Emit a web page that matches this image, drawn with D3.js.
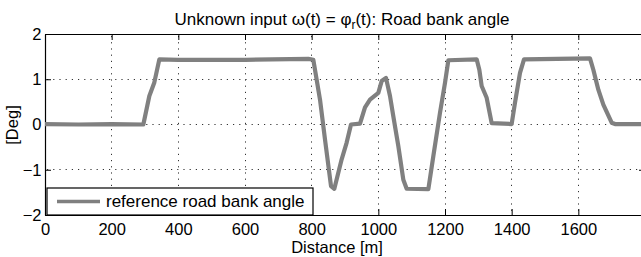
<!DOCTYPE html>
<html>
<head>
<meta charset="utf-8">
<script src="https://cdn.jsdelivr.net/npm/d3@7"></script>
<style>
  body { margin: 0; background: #fff; }
  svg { display: block; font-family: "Liberation Sans", Arial, sans-serif; }
</style>
</head>
<body>
<div id="chart"></div>
<script>
// Road bank angle (distance in m, angle in deg)
const distance = [0, 100, 200, 295, 313, 328, 343, 400, 600, 790, 805, 825, 840, 858, 868, 890, 905, 918, 945,
  960, 975, 1000, 1010, 1023, 1035, 1045, 1060, 1075, 1085, 1150, 1165, 1185, 1200, 1210, 1295, 1303,
  1310, 1325, 1340, 1400, 1410, 1425, 1437, 1635, 1645, 1660, 1675, 1700, 1710, 1800];
const bankAngle = [0.01, 0.0, 0.01, 0.0, 0.63, 0.93, 1.44, 1.43, 1.43, 1.45, 1.43, 0.55, -0.33, -1.36, -1.42, -0.77, -0.4, 0.0, 0.02,
  0.38, 0.55, 0.7, 0.96, 1.03, 0.63, 0.18, -0.48, -1.22, -1.42, -1.43, -0.7, 0.26, 0.92, 1.42, 1.44, 1.21,
  0.85, 0.59, 0.03, 0.01, 0.48, 1.14, 1.44, 1.46, 1.21, 0.77, 0.44, 0.04, 0.01, 0.01];
const xTicks = [0, 200, 400, 600, 800, 1000, 1200, 1400, 1600];
const yTicks = [-2, -1, 0, 1, 2];
const series = distance.map((d, i) => ({d: d, v: bankAngle[i]}));

const width = 641, height = 257;
const margin = {top: 34, left: 45};
const plotW = 600, plotH = 181;
const fontSize = "16.5px";

const svg = d3.select("#chart")
    .append("svg")
    .attr("width", width)
    .attr("height", height);

const x = d3.scaleLinear().domain([0, 1800]).range([margin.left, margin.left + plotW]);
const y = d3.scaleLinear().domain([-2, 2]).range([margin.top + plotH, margin.top]);
const crisp = v => Math.floor(v) + 0.5;

// dotted grid
const grid = svg.append("g").attr("class", "grid");
grid.selectAll(".gx")
    .data(xTicks.slice(1))
    .enter()
    .append("path")
      .attr("class", "gx")
      .attr("d", d => `M${crisp(x(d))},${y(2) + 2}V${y(-2)}`);
grid.selectAll(".gy")
    .data(yTicks.slice(1, -1))
    .enter()
    .append("path")
      .attr("class", "gy")
      .attr("d", d => `M${x(0) + 2},${crisp(y(d))}H${x(1800)}`);
grid.selectAll("path")
    .attr("fill", "none")
    .attr("stroke", "#333")
    .attr("stroke-width", 1)
    .attr("stroke-dasharray", "1.2,5");

// axes with inner ticks
const fmt = d3.format("d");
const xAxis = svg.append("g")
    .attr("transform", `translate(0,${y(-2)})`)
    .call(d3.axisBottom(x).tickValues(xTicks).tickFormat(fmt).tickSizeInner(-6).tickSizeOuter(0).tickPadding(8.5));
const xTop = svg.append("g")
    .attr("transform", `translate(0,${y(2)})`)
    .call(d3.axisTop(x).tickValues(xTicks).tickSizeInner(-6).tickSizeOuter(0).tickFormat(""));
const yAxis = svg.append("g")
    .attr("transform", `translate(${x(0)},0)`)
    .call(d3.axisLeft(y).tickValues(yTicks).tickFormat(fmt).tickSizeInner(-6).tickSizeOuter(0).tickPadding(3.5));
const yRight = svg.append("g")
    .attr("transform", `translate(${x(1800)},0)`)
    .call(d3.axisRight(y).tickValues(yTicks).tickSizeInner(-6).tickSizeOuter(0).tickFormat(""));

[xAxis, xTop, yAxis, yRight].forEach(g => {
  g.select(".domain").attr("stroke", "#000").attr("stroke-width", 1.2);
  g.selectAll(".tick line").attr("stroke", "#000");
  g.selectAll("text").attr("font-size", fontSize).attr("fill", "#000")
    .attr("font-family", "'Liberation Sans', Arial, sans-serif");
});

// the bank angle line
const line = d3.line().x(d => x(d.d)).y(d => y(d.v));
svg.append("path")
    .datum(series)
    .attr("fill", "none")
    .attr("stroke", "#808080")
    .attr("stroke-width", 4.2)
    .attr("stroke-linejoin", "round")
    .attr("d", line);

// legend
svg.append("rect")
    .attr("x", 47).attr("y", 188)
    .attr("width", 266).attr("height", 27)
    .attr("fill", "#fff")
    .attr("stroke", "#000")
    .attr("stroke-width", 1.2);
svg.append("line")
    .attr("x1", 57).attr("x2", 100)
    .attr("y1", 201.5).attr("y2", 201.5)
    .attr("stroke", "#808080")
    .attr("stroke-width", 3.6);
svg.append("text")
    .attr("x", 106).attr("y", 207)
    .attr("font-size", "17px")
    .text("reference road bank angle");

// title and labels
const title = svg.append("text")
    .attr("x", 342).attr("y", 25)
    .attr("text-anchor", "middle")
    .attr("font-size", "17px");
title.append("tspan").text("Unknown input ω(t) = φ");
title.append("tspan").attr("font-size", "12px").attr("dy", 4).text("r");
title.append("tspan").attr("dy", -4).text("(t): Road bank angle");

svg.append("text")
    .attr("x", 337).attr("y", 253)
    .attr("text-anchor", "middle")
    .attr("font-size", fontSize)
    .text("Distance [m]");

svg.append("text")
    .attr("transform", "translate(18,125) rotate(-90)")
    .attr("text-anchor", "middle")
    .attr("font-size", fontSize)
    .text("[Deg]");
</script>
</body>
</html>
